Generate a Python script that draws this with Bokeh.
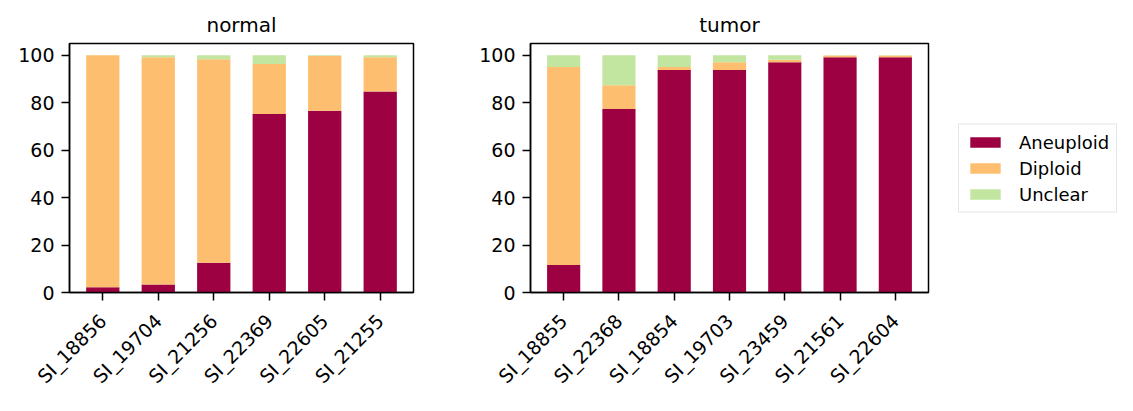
import math
from bokeh.plotting import figure
from bokeh.models import (ColumnDataSource, FactorRange, Range1d, FixedTicker,
                          Legend, LegendItem)
from bokeh.layouts import row
from bokeh.embed import file_html
from bokeh.resources import INLINE

# ---- data ----
normal_samples = ["SI_18856", "SI_19704", "SI_21256", "SI_22369", "SI_22605", "SI_21255"]
normal_aneuploid = [2.2, 3.4, 12.5, 75.3, 76.6, 84.8]
normal_diploid = [97.8, 95.8, 85.9, 21.1, 23.1, 14.4]
normal_unclear = [0.0, 0.8, 1.6, 3.6, 0.3, 0.8]

tumor_samples = ["SI_18855", "SI_22368", "SI_18854", "SI_19703", "SI_23459", "SI_21561", "SI_22604"]
tumor_aneuploid = [11.6, 77.4, 93.8, 93.8, 97.1, 99.2, 99.2]
tumor_diploid = [83.5, 10.0, 1.3, 3.3, 1.1, 0.7, 0.7]
tumor_unclear = [4.9, 12.6, 4.9, 2.9, 1.8, 0.1, 0.1]

categories = ["Aneuploid", "Diploid", "Unclear"]
colors = ["#9e0142", "#fdbf6f", "#c2e6a0"]
y_ticks = [0, 20, 40, 60, 80, 100]

FONT = "DejaVu Sans"
TOP, FRAME_H, BOTTOM = 43, 255, 100
H = TOP + FRAME_H + BOTTOM


def make_panel(title, samples, aneu, dip, unc, width, bl, br):
    src = ColumnDataSource(dict(sample=samples, Aneuploid=aneu, Diploid=dip, Unclear=unc))
    p = figure(
        x_range=FactorRange(factors=samples, range_padding=0.1, range_padding_units="absolute"),
        y_range=Range1d(0, 105),
        width=width, height=H,
        min_border_left=bl, min_border_right=br, min_border_top=TOP, min_border_bottom=BOTTOM,
        output_backend="svg", toolbar_location=None, title=title,
    )
    renderers = p.vbar_stack(categories, x="sample", width=0.6, color=colors,
                             line_color=None, source=src)
    p.title.align = "center"
    p.title.text_font = FONT
    p.title.text_font_size = "20px"
    p.title.text_font_style = "normal"
    p.title.text_color = "black"
    p.title.standoff = 13

    p.xgrid.visible = False
    p.ygrid.visible = False
    p.outline_line_color = "black"
    p.outline_line_width = 1.5
    p.outline_line_alpha = 1.0
    p.background_fill_color = "white"
    p.border_fill_color = "white"

    p.yaxis.ticker = FixedTicker(ticks=y_ticks)
    for ax in (p.xaxis[0], p.yaxis[0]):
        ax.major_label_text_font = FONT
        ax.major_label_text_font_size = "19px"
        ax.major_label_text_color = "black"
        ax.axis_line_color = "black"
        ax.axis_line_width = 1.5
        ax.major_tick_line_color = "black"
        ax.major_tick_line_width = 1.5
        ax.major_tick_out = 8
        ax.major_tick_in = 0
        ax.minor_tick_line_color = None
    p.yaxis.major_label_standoff = 7
    p.xaxis.major_label_standoff = 17
    p.xaxis.major_label_orientation = math.pi / 4
    return p, renderers


p1, _ = make_panel("normal", normal_samples, normal_aneuploid, normal_diploid,
                   normal_unclear, 476, 69, 63)
p2, _ = make_panel("tumor", tumor_samples, tumor_aneuploid, tumor_diploid,
                   tumor_unclear, 462, 50, 10)

# legend panel (separate, axis-free figure with the same vertical frame)
p3 = figure(width=190, height=H, x_range=Range1d(0, 1), y_range=Range1d(0, 1),
            x_axis_location=None, y_axis_location=None,
            min_border_left=0, min_border_right=0, min_border_top=TOP, min_border_bottom=BOTTOM,
            output_backend="svg", toolbar_location=None)
p3.outline_line_color = None
p3.xgrid.visible = False
p3.ygrid.visible = False
p3.background_fill_color = "white"
p3.border_fill_color = "white"
# off-range proxy glyphs so the legend can draw its colour swatches
swatches = [p3.vbar(x=[5], top=[6], bottom=[5], width=0.5, fill_color=c, line_color=None)
            for c in colors]

legend = Legend(
    items=[LegendItem(label=c, renderers=[r]) for c, r in zip(categories, swatches)],
    location="left",
    margin=20, padding=7, spacing=5,
    glyph_width=38, glyph_height=13, label_height=20, label_standoff=15,
    label_text_font=FONT, label_text_font_size="18px", label_text_color="black",
    border_line_color="#cccccc", border_line_width=1.2,
    background_fill_color="white", background_fill_alpha=1.0,
)
p3.add_layout(legend)

layout = row(p1, p2, p3, spacing=0)
open("out.html", "w").write(file_html(layout, INLINE))
